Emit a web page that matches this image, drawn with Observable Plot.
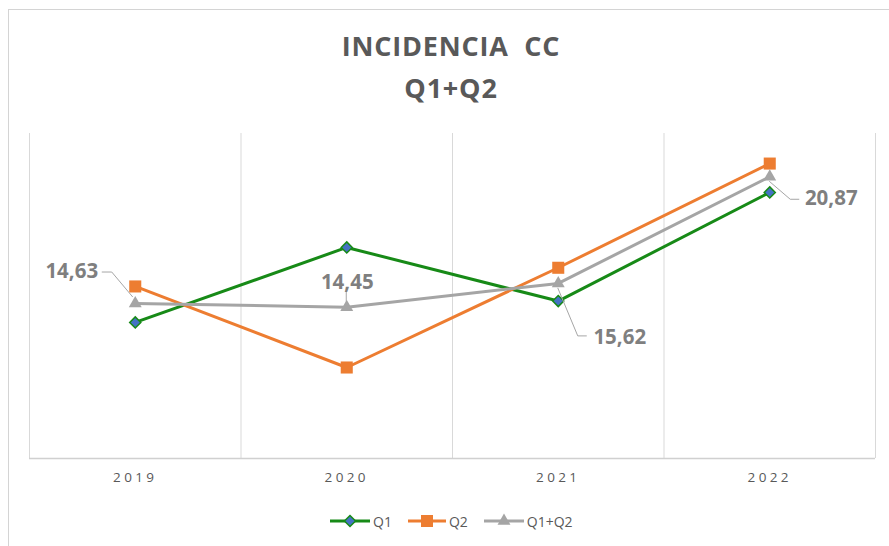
<!DOCTYPE html>
<html><head><meta charset="utf-8">
<script src="https://cdn.jsdelivr.net/npm/d3@7"></script>
<script src="https://cdn.jsdelivr.net/npm/@observablehq/plot@0.6"></script>
<style>
body{margin:0;background:#fff;font-family:"Open Sans",sans-serif;}
#wrap{position:relative;width:889px;height:546px;overflow:hidden;background:#fff;}
#frame{position:absolute;left:8px;top:9px;width:1000px;height:800px;border-left:1px solid #D4D4D4;border-top:1px solid #D4D4D4;}
.title{position:absolute;left:0;width:902px;text-align:center;font-weight:700;font-size:27px;letter-spacing:0.8px;color:#595959;line-height:30px;}
#plot{position:absolute;left:0;top:0;}
#legend{position:absolute;left:330px;top:511px;height:20px;display:flex;align-items:center;font-size:14px;color:#595959;}
#legend .item{display:flex;align-items:center;margin-right:16px;}
#legend .item span{margin-left:3px;}
</style></head>
<body>
<div id="wrap">
  <div id="frame"></div>
  <div class="title" style="top:31px">INCIDENCIA&nbsp; CC</div>
  <div class="title" style="top:73px">Q1+Q2</div>
  <div id="plot"></div>
  <div id="legend"></div>
</div>
<script>
// ---- data ----
const years = [2019, 2020, 2021, 2022];
const seriesNames = ["Q1", "Q2", "Q1+Q2"];
const q1 = [13.70, 17.39, 14.75, 20.10];
const q2 = [15.47, 11.48, 16.39, 21.52];
const q12 = [14.63, 14.45, 15.62, 20.87];
const seriesColors = ["#178A17", "#ED7D31", "#A5A5A5"];
const markerFill = ["#4472C4", "#ED7D31", "#A5A5A5"];
const markerSymbol = ["diamond2", "square", "triangle"];
const markerR = [5, 6.8, 4.8];

// label placement (pixel offsets from the labelled Q1+Q2 point)
const labelOffsets = [[-63, -32], [1, -25], [62, 54], [62, 21]];
const leaderPaths = [
  [[-33, -31], [-23, -31], [-2, -6]],
  [[0, -16], [0, -5]],
  [[0, 5], [20, 53], [29, 53]],
  [[0, 5], [21, 23], [30, 23]]
];

const seriesValues = [q1, q2, q12];
const rows = seriesNames.flatMap((s, si) => years.map((yr, i) => ({series: s, year: yr, value: seriesValues[si][i]})));

const fmt = v => v.toFixed(2).replace(".", ",");

function annotations(index, scales) {
  const g = d3.create("svg:g");
  years.forEach((yr, i) => {
    const px = scales.x(yr), py = scales.y(q12[i]);
    g.append("path")
      .attr("d", d3.line()(leaderPaths[i].map(([dx, dy]) => [px + dx, py + dy])))
      .attr("fill", "none").attr("stroke", "#A6A6A6").attr("stroke-width", 1);
    g.append("text")
      .attr("x", px + labelOffsets[i][0]).attr("y", py + labelOffsets[i][1])
      .attr("dy", "0.36em").attr("text-anchor", "middle")
      .attr("font-family", "Open Sans").attr("font-weight", 700).attr("font-size", 20.5)
      .attr("fill", "#7F7F7F").text(fmt(q12[i]));
  });
  return g.node();
}

const gridX = [...years.map(y => y - 0.5), years[years.length - 1] + 0.5];

const seriesMarks = seriesNames.flatMap((s, si) => {
  const d = rows.filter(r => r.series === s);
  return [
    Plot.line(d, {x: "year", y: "value", stroke: seriesColors[si], strokeWidth: 3}),
    Plot.dot(d, {x: "year", y: "value", symbol: () => markerSymbol[si], r: markerR[si],
      fill: markerFill[si], stroke: si === 0 ? seriesColors[0] : "none", strokeWidth: 1.5})
  ];
});

const chart = Plot.plot({
  width: 889, height: 546,
  marginLeft: 29, marginRight: 14, marginTop: 133, marginBottom: 88,
  style: {fontFamily: "Open Sans", fontSize: "13px", color: "#595959", background: "transparent"},
  x: {type: "linear", domain: [2018.5, 2022.5], ticks: years, tickSize: 0, tickPadding: 14, tickFormat: d => String(d), label: null},
  y: {domain: [7, 23], axis: null},
  symbol: {type: "identity"},
  marks: [
    Plot.ruleX(gridX, {stroke: "#D9D9D9", strokeWidth: 1}),
    Plot.ruleY([7], {stroke: "#D0D0D0", strokeWidth: 1.5}),
    ...seriesMarks,
    annotations
  ]
});
document.getElementById("plot").appendChild(chart);

// style the year tick labels
const yearSet = new Set(years.map(String));
d3.select(chart).selectAll("text").filter(function () { return yearSet.has(this.textContent); })
  .style("font-size", "13.5px").style("letter-spacing", "3.4px").style("fill", "#595959");

// legend
const legend = d3.select("#legend");
seriesNames.forEach((s, si) => {
  const item = legend.append("div").attr("class", "item");
  const w = si === 1 ? 38 : 40;
  const svg = item.append("svg").attr("width", w).attr("height", 16);
  svg.append("line").attr("x1", 0).attr("x2", w).attr("y1", 8).attr("y2", 8)
    .attr("stroke", seriesColors[si]).attr("stroke-width", 3);
  const symMap = {diamond2: d3.symbolDiamond2, square: d3.symbolSquare, triangle: d3.symbolTriangle};
  svg.append("path").attr("transform", `translate(${w / 2},8)`)
    .attr("d", d3.symbol(symMap[markerSymbol[si]], markerR[si] * markerR[si] * Math.PI)())
    .attr("fill", markerFill[si]).attr("stroke", si === 0 ? seriesColors[0] : "none").attr("stroke-width", 1.5);
  item.append("span").text(s);
});
</script>
</body></html>
